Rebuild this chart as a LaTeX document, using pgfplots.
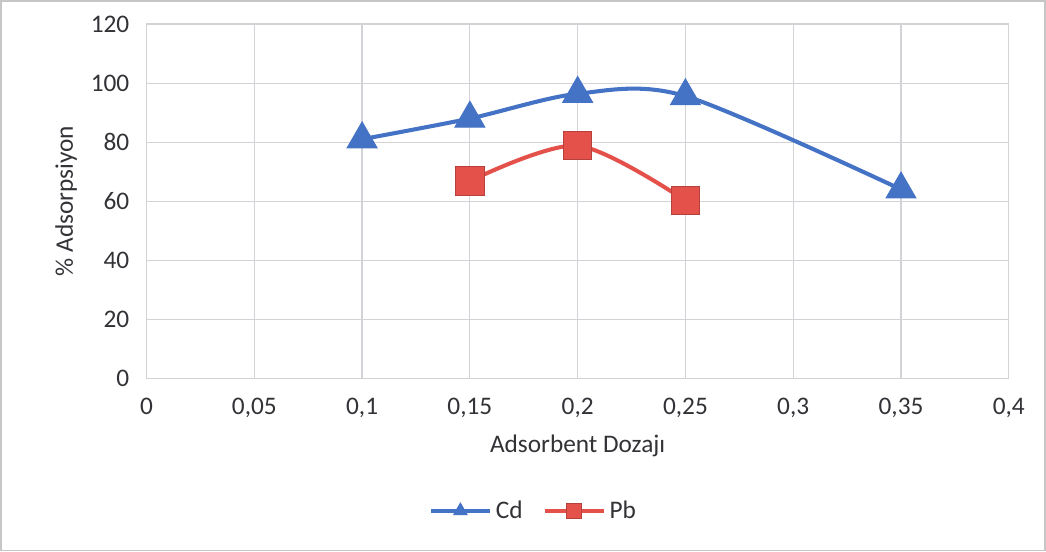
\documentclass[border=0pt]{standalone}
\usepackage{pgfplots}
\pgfplotsset{compat=1.18}
\usepackage{fontspec}
\setmainfont{Carlito}
\definecolor{cdblue}{RGB}{68,114,196}
\definecolor{pbred}{RGB}{228,80,74}
\definecolor{gridc}{RGB}{210,210,215}
\definecolor{txt}{RGB}{50,50,55}
\begin{document}
\begin{tikzpicture}
\begin{axis}[
  width=426pt, height=175pt, scale only axis,
  xmin=0, xmax=0.4, ymin=0, ymax=120,
  xtick={0,0.05,...,0.4}, ytick={0,20,...,120},
  grid=major, major grid style={gridc, line width=0.6pt},
  axis line style={gridc, line width=0.6pt},
  tick style={draw=none},
  /pgf/number format/use comma,
  /pgf/number format/assume math mode=true,
  xticklabel style={font=\fontsize{12.5}{14}\selectfont, text=txt, yshift=-6pt},
  yticklabel style={font=\fontsize{12.5}{14}\selectfont, text=txt, xshift=-5pt},
  xticklabels={0,{0,05},{0,1},{0,15},{0,2},{0,25},{0,3},{0,35},{0,4}},
  scaled x ticks=false,
  xlabel={Adsorbent Dozajı}, ylabel={\% Adsorpsiyon},
  label style={font=\fontsize{12.5}{14}\selectfont, text=txt},
  xlabel style={yshift=-2pt},
  ylabel style={yshift=0pt},
  legend style={at={(0.45,0)}, yshift=-65.5pt, anchor=center, legend columns=2, draw=none, font=\fontsize{12.5}{14}\selectfont, text=txt, /tikz/every even column/.append style={column sep=8pt}},
  legend image code/.code={\draw[#1, mark size=3.8pt, mark repeat=2, mark phase=2] plot coordinates {(0pt,0pt) (14.5pt,0pt) (29pt,0pt)};},
]
\addplot[cdblue, line width=2pt, smooth, tension=0.5, mark=triangle*, mark size=8.5pt, mark options={fill=cdblue, draw=cdblue, line width=0.5pt}]
  coordinates {(0.1,81) (0.15,88) (0.2,96.4) (0.25,95.6) (0.35,64)};
\addlegendentry{Cd}
\addplot[pbred, line width=2pt, smooth, tension=0.5, mark=square*, mark size=7pt, mark options={fill=pbred, draw=pbred!80!black, line width=0.5pt}]
  coordinates {(0.15,66.8) (0.2,78.8) (0.25,60.2)};
\addlegendentry{Pb}
\end{axis}
\draw[gray!45, line width=0.8pt] ([shift={(-72pt,-85pt)}]current axis.south west) rectangle ([shift={(18pt,11.5pt)}]current axis.north east);
\end{tikzpicture}
\end{document}
